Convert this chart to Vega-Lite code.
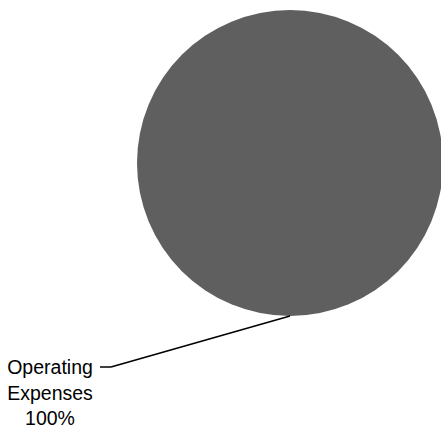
{
  "$schema": "https://vega.github.io/schema/vega-lite/v6.json",
  "width": 306,
  "height": 306,
  "autosize": "none",
  "padding": {"left": 137, "top": 10, "right": 0, "bottom": 116},
  "background": "white",
  "config": {"view": {"stroke": null}},
  "data": {"values": [
    {"category": "Operating Expenses", "share": "100%", "value": 100}
  ]},
  "layer": [
    {
      "mark": {"type": "arc", "color": "#5f5f5f"},
      "encoding": {
        "theta": {"field": "value", "type": "quantitative", "stack": true},
        "color": {"field": "category", "type": "nominal", "scale": {"range": ["#5f5f5f"]}, "legend": null}
      }
    },
    {
      "mark": {"type": "rule", "color": "black", "strokeWidth": 1.5},
      "encoding": {
        "x": {"value": 153}, "y": {"value": 306},
        "x2": {"value": -26}, "y2": {"value": 357}
      }
    },
    {
      "mark": {"type": "rule", "color": "black", "strokeWidth": 1.5},
      "encoding": {
        "x": {"value": -26}, "y": {"value": 357},
        "x2": {"value": -37}, "y2": {"value": 357}
      }
    },
    {
      "mark": {"type": "text", "x": -87, "y": 364, "align": "center", "baseline": "alphabetic", "lineBreak": " ", "lineHeight": 25.5, "font": "Liberation Sans", "fontSize": 19.5, "color": "black"},
      "encoding": {"text": {"field": "category"}}
    },
    {
      "mark": {"type": "text", "x": -87, "y": 415, "align": "center", "baseline": "alphabetic", "font": "Liberation Sans", "fontSize": 19.5, "color": "black"},
      "encoding": {"text": {"field": "share"}}
    }
  ]
}
